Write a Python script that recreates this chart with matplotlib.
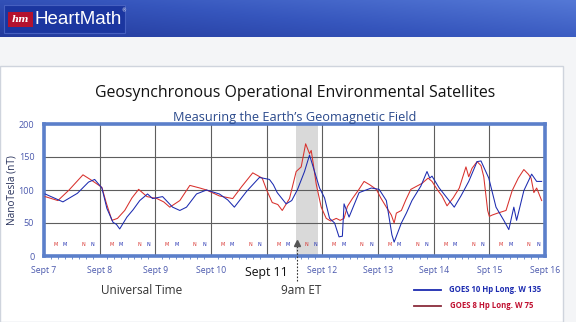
import numpy as np
import matplotlib.pyplot as plt
import matplotlib.transforms as mtransforms
from matplotlib.colors import LinearSegmentedColormap
from matplotlib.patches import Rectangle

# days since Sept 7 00:00 UT, field in nT
red_days = [0.02, 0.25, 0.45, 0.70, 0.85, 1.04, 1.12, 1.22, 1.32, 1.45, 1.58, 1.70, 1.85,
            2.03, 2.15, 2.26, 2.44, 2.62, 2.80, 2.92, 3.15, 3.39, 3.55, 3.75, 3.92, 4.00,
            4.10, 4.20, 4.28, 4.41, 4.53, 4.62, 4.70, 4.77, 4.80, 4.84, 4.89, 4.98, 5.07,
            5.15, 5.25, 5.32, 5.39, 5.45, 5.54, 5.65, 5.75, 5.85, 5.97, 6.05, 6.15, 6.24,
            6.29, 6.33, 6.42, 6.50, 6.59, 6.79, 6.90, 6.97, 7.07, 7.15, 7.24, 7.35, 7.46,
            7.58, 7.63, 7.69, 7.78, 7.85, 7.90, 7.97, 8.00, 8.05, 8.15, 8.30, 8.41, 8.52,
            8.62, 8.70, 8.75, 8.80, 8.85, 8.94]
red_nt = [90, 84, 100, 123, 115, 104, 80, 54, 57, 69, 88, 101, 90,
          87, 82, 74, 84, 107, 103, 100, 91, 87, 105, 126, 118, 100,
          81, 78, 69, 87, 128, 135, 170, 155, 160, 138, 109, 74, 57,
          53, 57, 54, 57, 75, 87, 100, 113, 108, 101, 88, 74, 62,
          50, 65, 69, 85, 101, 110, 118, 113, 100, 91, 76, 88, 103,
          135, 120, 133, 143, 137, 120, 69, 60, 62, 65, 69, 99, 118,
          131, 124, 118, 96, 103, 84]

blue_days = [0.02, 0.34, 0.60, 0.80, 0.91, 1.04, 1.13, 1.24, 1.30, 1.36, 1.49, 1.60, 1.72,
             1.86, 1.95, 2.13, 2.31, 2.44, 2.56, 2.74, 2.92, 3.15, 3.30, 3.42, 3.64, 3.87,
             4.05, 4.12, 4.19, 4.35, 4.45, 4.55, 4.68, 4.77, 4.86, 4.95, 5.04, 5.13, 5.22,
             5.30, 5.36, 5.39, 5.48, 5.66, 5.88, 6.02, 6.15, 6.25, 6.29, 6.42, 6.51, 6.61,
             6.77, 6.88, 6.93, 6.97, 7.10, 7.37, 7.49, 7.63, 7.78, 7.85, 7.99, 8.12, 8.26,
             8.35, 8.44, 8.49, 8.62, 8.76, 8.85, 8.94]
blue_nt = [94, 82, 95, 112, 116, 103, 72, 51, 48, 41, 59, 70, 84,
           94, 87, 90, 74, 69, 74, 94, 100, 94, 85, 74, 98, 119,
           116, 108, 96, 79, 84, 100, 128, 153, 128, 103, 88, 57, 50,
           29, 30, 79, 59, 96, 103, 101, 84, 32, 21, 50, 65, 84,
           106, 128, 118, 121, 103, 74, 91, 113, 143, 144, 118, 74, 54,
           40, 74, 54, 99, 124, 113, 113]

day_labels = ["Sept 7", "Sept 8", "Sept 9", "Sept 10", "Sept 11",
              "Sept 12", "Sept 13", "Sept 14", "Spt 15", "Sept 16"]
y_ticks = [0, 50, 100, 150, 200]

# local midnight / noon markers (fraction of day) for each satellite
red_marks = [(0.21, "M"), (0.71, "N")]
blue_marks = [(0.375, "M"), (0.875, "N")]

event_span = (4.52, 4.93)
event_time = 4.54

BLUE = "#1c2bb0"
RED = "#d8302c"
FRAME = "#5b7fca"

W, H = 576, 322
fig = plt.figure(figsize=(W / 100, H / 100), dpi=100)
fig.patch.set_facecolor("#f4f5f7")


def fx(px):
    return px / W


def fy(py):
    return 1 - py / H


# white panel, kept behind the axes
fig.patches.append(Rectangle((0, 0), fx(563), fy(66), transform=fig.transFigure,
                             facecolor="white", edgecolor="#cfd4dd", lw=1.0, zorder=-5))

# header bar
hdr = fig.add_axes([0, fy(37), 1, 37 / H])
grad = np.linspace(0, 1, 200)[None, :] * 0.3 + np.linspace(0.2, 0, 40)[:, None]
hdr.imshow(grad, aspect="auto", cmap=LinearSegmentedColormap.from_list(
    "hdr", ["#233a9c", "#3656bd", "#5478d6"]), extent=[0, 1, 0, 1])
hdr.set_axis_off()
hdr.add_patch(Rectangle((4 / W, 1 - 33 / 37), 121 / W, 28 / 37, transform=hdr.transAxes,
                        facecolor="#1b36a0", edgecolor="#4660c0", lw=0.8))
hdr.add_patch(Rectangle((8 / W, 1 - 27 / 37), 25 / W, 15 / 37, transform=hdr.transAxes,
                        facecolor="#b3122f", edgecolor="none"))
hdr.text(20.5 / W, 1 - 19.5 / 37, "hm", transform=hdr.transAxes, color="white",
         fontsize=7, style="italic", fontweight="bold", family="DejaVu Serif",
         ha="center", va="center")
hdr.text(35 / W, 1 - 19 / 37, "HeartMath", transform=hdr.transAxes, color="white",
         fontsize=13.5, family="Liberation Sans", ha="left", va="center")
hdr.text(121 / W, 1 - 11 / 37, "®", transform=hdr.transAxes, color="white",
         fontsize=3.5, ha="left", va="center")

# titles
fig.text(fx(295), fy(93), "Geosynchronous Operational Environmental Satellites",
         ha="center", va="center", fontsize=11.4, family="Open Sans", color="#111111")
fig.text(fx(295), fy(117), "Measuring the Earth\u2019s Geomagnetic Field",
         ha="center", va="center", fontsize=9.2, family="Open Sans", color="#2b4a8c")

# main plot
ax = fig.add_axes([fx(44), fy(256), fx(545) - fx(44), (256 - 124) / H])
ax.set_facecolor("white")
ax.axvspan(*event_span, color="#d9d9d9", zorder=0, lw=0)
ax.plot(red_days, red_nt, color=RED, lw=0.75, zorder=3)
ax.plot(blue_days, blue_nt, color=BLUE, lw=0.75, zorder=4)

for d in range(9):
    for off, lab in red_marks:
        ax.text(d + off, 17, lab, color=RED, fontsize=3.5, ha="center", va="center")
    for off, lab in blue_marks:
        ax.text(d + off, 17, lab, color=BLUE, fontsize=3.5, ha="center", va="center")

ax.set_xlim(0, 9)
ax.set_ylim(0, 200)
ax.set_xticks(range(10))
ax.set_xticklabels(day_labels)
ax.set_xticks(np.arange(0, 9.01, 0.125), minor=True)
ax.set_yticks(y_ticks)
ax.grid(True, which="major", color="#5e5e5e", lw=0.8)
ax.set_axisbelow(True)
for s in ax.spines.values():
    s.set_color(FRAME)
    s.set_linewidth(2.6)
ax.tick_params(axis="x", which="major", length=0, pad=7, labelsize=6.2, labelcolor="#4a58ad")
ax.tick_params(axis="x", which="minor", length=2, width=0.6, color=FRAME, direction="out")
ax.tick_params(axis="y", length=0, pad=7, labelsize=6.5, labelcolor="#4a58ad")
for lbl in ax.get_xticklabels():
    lbl.set_family("Open Sans")
    if lbl.get_text() == "Sept 11":
        lbl.set_fontsize(8.8)
        lbl.set_color("#111111")
for lbl in ax.get_yticklabels():
    lbl.set_family("Open Sans")
ax.set_ylabel("NanoTesla (nT)", fontsize=7.2, family="Open Sans", color="#26305a", labelpad=1)

# 9am ET marker
trans = mtransforms.blended_transform_factory(ax.transData, ax.transAxes)
ax.plot([event_time, event_time], [-0.19, 0.1], transform=trans, color="#333333",
        lw=0.8, ls=(0, (1.5, 1.5)), clip_on=False, zorder=6)
ax.plot(event_time, 0.1, transform=trans, marker="^", ms=4, color="#555555",
        clip_on=False, zorder=6)

fig.text(fx(142), fy(290), "Universal Time", ha="center", va="center",
         fontsize=8.5, family="Open Sans", color="#333333")
fig.text(fx(301), fy(291), "9am ET", ha="center", va="center",
         fontsize=8.5, family="Open Sans", color="#333333")

# legend
fig.lines.append(plt.Line2D([fx(414), fx(441)], [fy(290), fy(290)], transform=fig.transFigure,
                            color=BLUE, lw=1.3))
fig.lines.append(plt.Line2D([fx(414), fx(441)], [fy(306), fy(306)], transform=fig.transFigure,
                            color="#8a2c3c", lw=1.3))
fig.text(fx(449), fy(290), "GOES 10 Hp Long. W 135", ha="left", va="center",
         fontsize=5.6, fontweight="bold", family="Open Sans", color=BLUE)
fig.text(fx(450), fy(306), "GOES 8 Hp Long. W 75", ha="left", va="center",
         fontsize=5.6, fontweight="bold", family="Open Sans", color="#c01030")

fig.savefig("out.png", dpi=100)
